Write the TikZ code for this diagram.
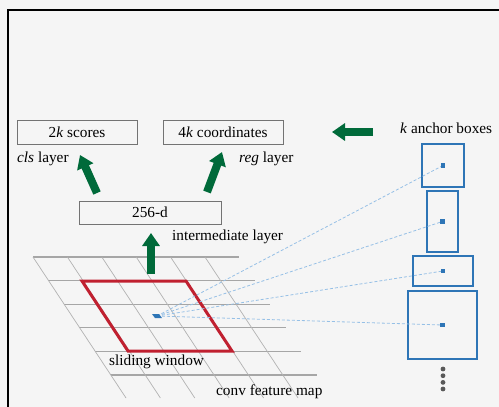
\documentclass[tikz,border=0pt]{standalone}
\usepackage{fontspec}
\setmainfont{Liberation Serif}
\usetikzlibrary{arrows.meta}
\definecolor{rpngreen}{RGB}{0,106,58}
\definecolor{rpnred}{RGB}{192,32,48}
\definecolor{rpnblue}{RGB}{46,117,182}
\definecolor{rpnlight}{RGB}{150,192,230}
\tikzset{
  outbox/.style={draw=black!55, line width=1pt, inner sep=0pt},
  fat/.style={rpngreen, line width=8pt, -{Triangle[width=17pt,length=13pt]}},
  anchorbox/.style={draw=rpnblue, line width=1.3pt, inner sep=0pt},
  ray/.style={rpnlight, line width=0.8pt, dash pattern=on 3pt off 2pt},
  lbl/.style={anchor=west, inner sep=0pt},
}
\begin{document}
\begin{tikzpicture}[x=1pt,y=-1pt,font=\fontsize{15.3}{18}\selectfont]
\useasboundingbox[fill=black!4] (0,0) rectangle (499,407);
\draw[line width=2.2pt] (8,407) -- (8,10) -- (499,10);
% feature map grid
\foreach \j in {0,...,5}
  \draw[black!35, line width=1.1pt] (33+15.6*\j,257+23.6*\j) -- ++(206,0);
\foreach \i in {0,...,5}
  \draw[black!30, line width=0.7pt] (33+34.4*\i,257) -- ++(93,141);
\draw[rpnred, line width=3pt] (82,281) -- (186,281) -- (232,351) -- (128,351) -- cycle;
\coordinate (c) at (157,316);
% output layers
\node[outbox, minimum width=120pt, minimum height=24pt] (cls) at (77,132) {2\textit{k} scores};
\node[outbox, minimum width=120pt, minimum height=24pt] (reg) at (223,132) {4\textit{k} coordinates};
\node[outbox, minimum width=142pt, minimum height=23pt] (mid) at (150,212.5) {256-d};
\node[lbl] (clsl) at (17,159) {\textit{cls} layer};
\node[lbl] (regl) at (239,159) {\textit{reg} layer};
\node[lbl] (midl) at (172,237) {intermediate layer};
\node[lbl] (winl) at (109,362) {sliding window};
\node[lbl] (mapl) at (216,392) {conv feature map};
\node[lbl] (ancl) at (400,128) {\textit{k} anchor boxes};
% anchors
\node[anchorbox, minimum width=42pt, minimum height=43pt] (a1) at (443,165.5) {};
\node[anchorbox, minimum width=31pt, minimum height=61pt] (a2) at (442.5,221.5) {};
\node[anchorbox, minimum width=60pt, minimum height=30pt] (a3) at (443,271) {};
\node[anchorbox, minimum width=69pt, minimum height=68pt] (a4) at (442.5,325) {};
\foreach \a in {a1,a2,a3,a4} {
  \draw[ray] (c) -- (\a.center);
  \fill[rpnblue] ([shift={(-2.2,-2.2)}]\a.center) rectangle ++(4.4,4.4);
}
\fill[rpnblue] (152,314) -- (159,314) -- (162,318) -- (155,318) -- cycle;
\foreach \y in {369,375.7,382.4,389}
  \fill[black!65] (443,\y) circle (2.4);
% arrows
\coordinate (t1) at (97,193);
\coordinate (h1) at (80,155);
\coordinate (t2) at (207,192);
\coordinate (h2) at (222,152);
\coordinate (t3) at (151,274);
\coordinate (h3) at (151,233);
\coordinate (t4) at (373,132);
\coordinate (h4) at (332,132);
\draw[fat] (t1) -- (h1);
\draw[fat] (t2) -- (h2);
\draw[fat] (t3) -- (h3);
\draw[fat] (t4) -- (h4);
\end{tikzpicture}
\end{document}
